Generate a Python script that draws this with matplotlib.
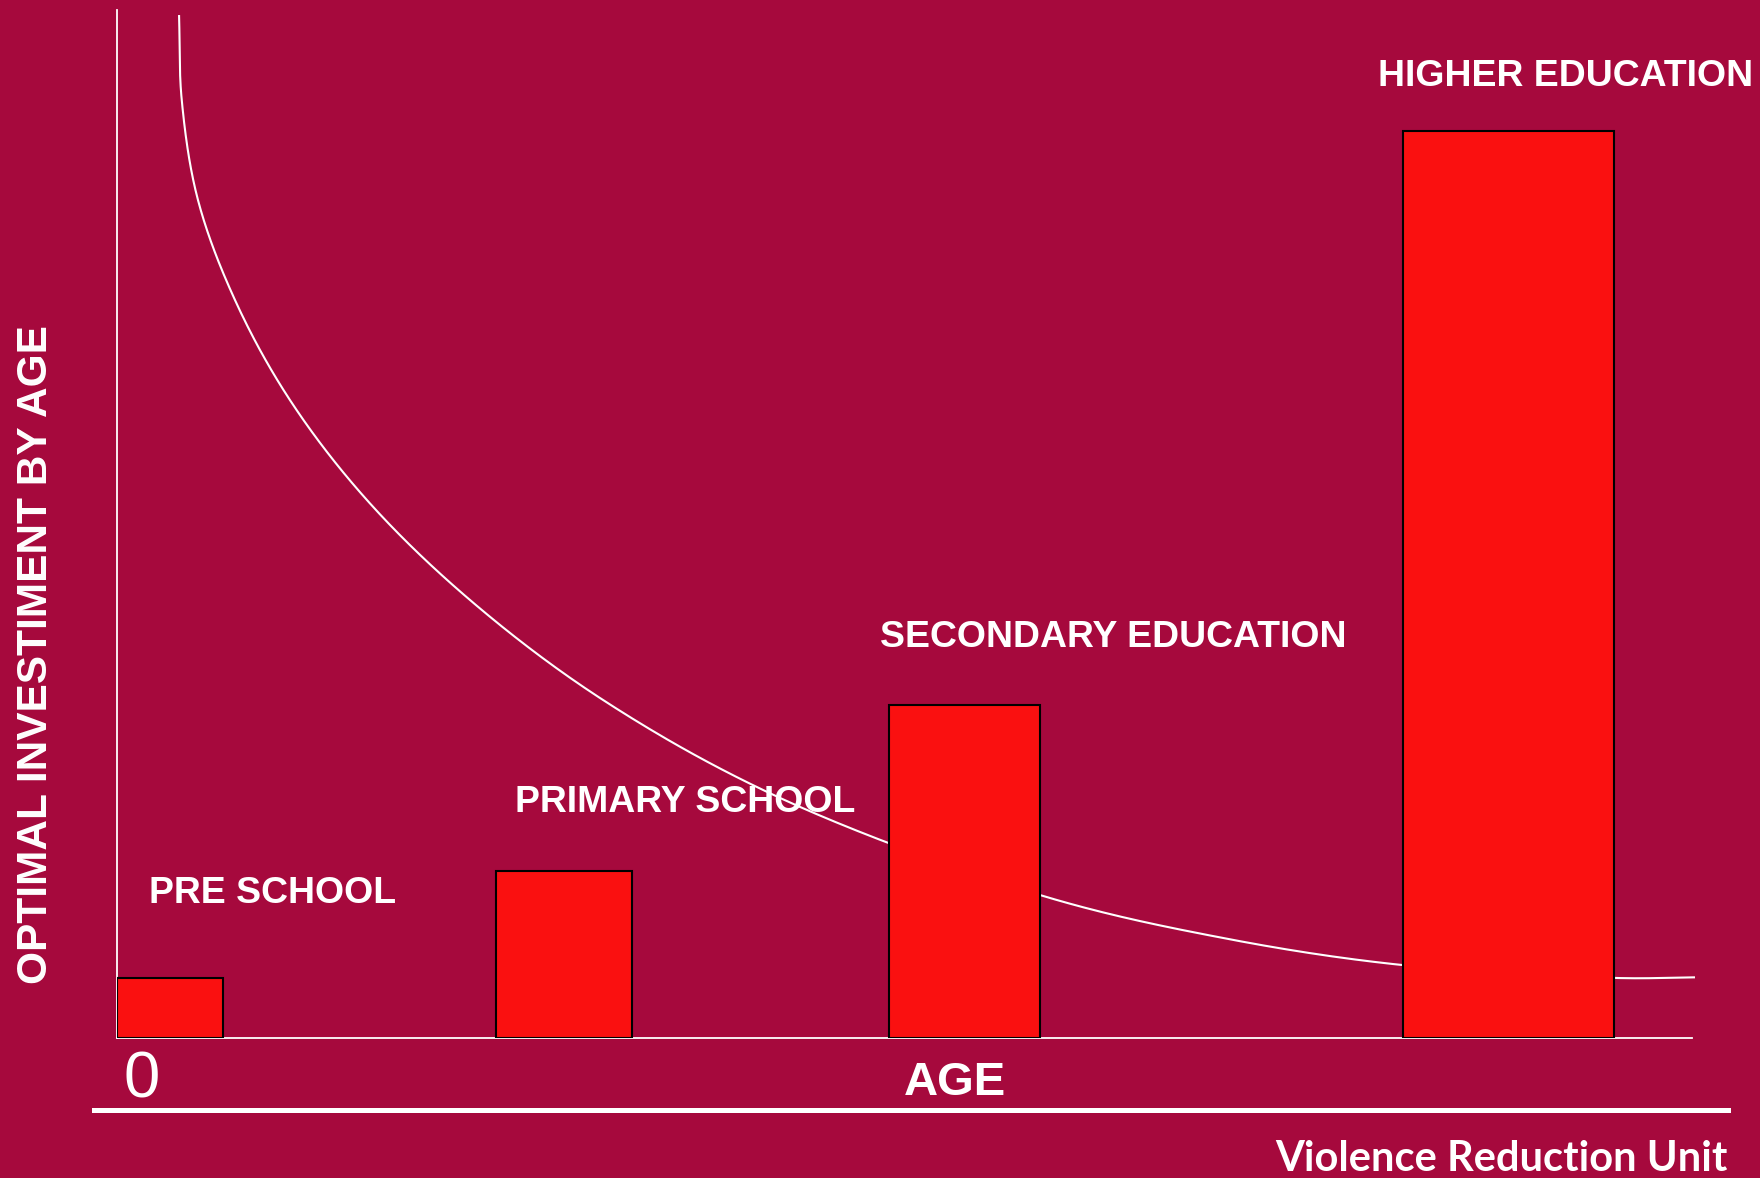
import matplotlib
matplotlib.use("Agg")
import numpy as np
import matplotlib.pyplot as plt
from matplotlib.lines import Line2D

# ---- data (arbitrary units: age axis 0-100, investment 0-100) ----
stages = ["PRE SCHOOL", "PRIMARY SCHOOL", "SECONDARY EDUCATION", "HIGHER EDUCATION"]
bar_left = [0.0, 24.06, 49.02, 81.65]
bar_width = [6.73, 8.64, 9.59, 13.40]
bar_height = [5.84, 16.25, 32.39, 88.23]

label_x = [2.03, 25.27, 48.44, 80.06]
label_y = [13.1, 22.0, 38.0, 92.6]

# "return on investment" curve
curve_x = [3.94, 4.11, 5.14, 7.49, 10.98, 15.87, 22.41, 30.86, 42.10,
           58.60, 70.22, 81.59, 95.17, 100.19]
curve_y = [99.51, 91.25, 81.52, 71.79, 62.06, 52.33, 42.61, 32.88, 23.35,
           13.91, 9.73, 7.10, 5.84, 5.90]

x_label = "AGE"
y_label = "OPTIMAL INVESTIMENT BY AGE"
origin_label = "0"
brand = "Violence Reduction Unit"

# ---- style ----
BG = "#A6093D"
BAR = "#FA1010"
W, H = 1760, 1178
ARIAL = ["Liberation Sans", "DejaVu Sans"]


def smooth_path(xs, ys, n=40):
    """Centripetal Catmull-Rom rendering through the read points."""
    P = np.column_stack([xs, ys]).astype(float)
    P = np.vstack([2 * P[0] - P[1], P, 2 * P[-1] - P[-2]])
    out = []
    for i in range(1, len(P) - 2):
        p0, p1, p2, p3 = P[i - 1], P[i], P[i + 1], P[i + 2]
        t0 = 0.0
        t1 = t0 + np.linalg.norm(p1 - p0) ** 0.5
        t2 = t1 + np.linalg.norm(p2 - p1) ** 0.5
        t3 = t2 + np.linalg.norm(p3 - p2) ** 0.5
        t = np.linspace(t1, t2, n)[:, None]
        a1 = (t1 - t) / (t1 - t0) * p0 + (t - t0) / (t1 - t0) * p1
        a2 = (t2 - t) / (t2 - t1) * p1 + (t - t1) / (t2 - t1) * p2
        a3 = (t3 - t) / (t3 - t2) * p2 + (t - t2) / (t3 - t2) * p3
        b1 = (t2 - t) / (t2 - t0) * a1 + (t - t0) / (t2 - t0) * a2
        b2 = (t3 - t) / (t3 - t1) * a2 + (t - t1) / (t3 - t1) * a3
        c = (t2 - t) / (t2 - t1) * b1 + (t - t1) / (t2 - t1) * b2
        out.append(c if i == 1 else c[1:])
    C = np.vstack(out)
    return C[:, 0], C[:, 1]


fig = plt.figure(figsize=(W / 100, H / 100), dpi=100, facecolor=BG)
ax = fig.add_axes([117 / W, 1 - 1038 / H, (1692 - 117) / W, (1038 - 10) / H])
ax.set_facecolor(BG)
ax.set_xlim(0, 100)
ax.set_ylim(0, 100)
for s in ("top", "right"):
    ax.spines[s].set_visible(False)
for s in ("left", "bottom"):
    ax.spines[s].set_color("white")
    ax.spines[s].set_linewidth(1.3)
    ax.spines[s].set_zorder(1)
ax.set_xticks([])
ax.set_yticks([])

# smoothing done in display space so it is isotropic
pts = ax.transData.transform(np.column_stack([curve_x, curve_y]))
sx_px, sy_px = smooth_path(pts[:, 0], pts[:, 1])
smooth = ax.transData.inverted().transform(np.column_stack([sx_px, sy_px]))
ax.plot(smooth[:, 0], smooth[:, 1], color="white", lw=1.5, zorder=2,
        clip_on=False, solid_capstyle="butt")
ax.bar(bar_left, bar_height, width=bar_width, align="edge", color=BAR,
       edgecolor="black", linewidth=1.5, zorder=3)

for name, lx, ly in zip(stages, label_x, label_y):
    ax.text(lx, ly, name, color="white", fontsize=26.9, fontweight="bold",
            family=ARIAL, ha="left", va="baseline", zorder=4, clip_on=False)

fig.text(955 / W, 1 - 1095 / H, x_label, color="white", fontsize=34,
         fontweight="bold", family=ARIAL, ha="center", va="baseline")
fig.text(123 / W, 1 - 1097 / H, origin_label, color="white", fontsize=47,
         family=ARIAL, ha="left", va="baseline")
fig.text(47 / W, 1 - 655 / H, y_label, color="white", fontsize=30.5,
         fontweight="bold", family=ARIAL, rotation=90, rotation_mode="anchor",
         ha="center", va="baseline")

fig.add_artist(Line2D([94 / W, 1728 / W], [1 - 1110 / H, 1 - 1110 / H],
                      color="white", lw=3.6, transform=fig.transFigure))
fig.text(1728 / W, 1 - 1171 / H, brand, color="white", fontsize=30,
         fontweight="bold", family=["Lato", "DejaVu Sans"],
         ha="right", va="baseline")

fig.savefig("out.png", dpi=100, facecolor=BG)
